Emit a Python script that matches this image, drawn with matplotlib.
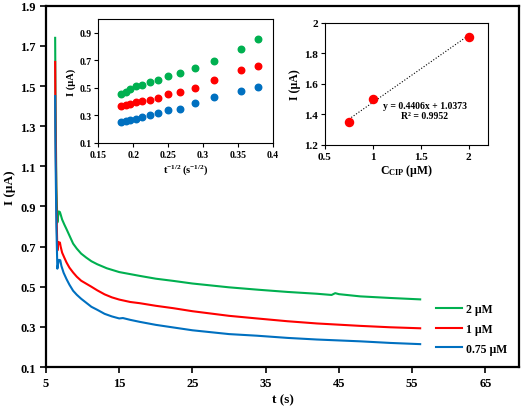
import numpy as np
import matplotlib
matplotlib.use('Agg')
import matplotlib.pyplot as plt

plt.rcParams['font.family'] = ['Liberation Serif', 'DejaVu Serif']
plt.rcParams['font.weight'] = 'bold'
plt.rcParams['mathtext.fontset'] = 'custom'
plt.rcParams['mathtext.rm'] = 'Liberation Serif'
plt.rcParams['mathtext.bf'] = 'Liberation Serif:bold'

# main chronoamperograms
t_2uM = [6.25, 6.3, 6.42, 6.55, 6.65, 6.75, 6.9, 7.0, 7.2, 7.5, 7.8, 8.2, 8.7, 9.2, 9.8, 10.5, 11.2,
         12, 13.3, 15, 17.8, 20, 22.4, 25, 30, 34, 38, 42, 44, 44.5, 45, 47.9, 52, 56.1]
i_2uM = [1.74, 1.40, 1.00, 0.82, 0.85, 0.875, 0.872, 0.86, 0.835, 0.81, 0.787, 0.755, 0.715, 0.69,
         0.665, 0.645, 0.627, 0.612, 0.592, 0.573, 0.554, 0.54, 0.529, 0.516, 0.497, 0.485, 0.474,
         0.465, 0.459, 0.468, 0.463, 0.452, 0.444, 0.437]

t_1uM = [6.25, 6.3, 6.42, 6.55, 6.7, 6.9, 7.0, 7.2, 7.5, 7.8, 8.2, 8.7, 9.2, 9.8, 10.5, 11.2, 12,
         13, 14, 15, 16.5, 17.8, 20, 22.4, 25, 30, 33.8, 38, 42, 47.9, 52, 56.1]
i_1uM = [1.62, 1.30, 0.90, 0.68, 0.722, 0.72, 0.70, 0.67, 0.645, 0.621, 0.595, 0.571, 0.55, 0.53,
         0.515, 0.50, 0.482, 0.462, 0.447, 0.436, 0.424, 0.418, 0.405, 0.393, 0.378, 0.355, 0.342,
         0.328, 0.317, 0.305, 0.298, 0.293]

t_075uM = [6.25, 6.3, 6.42, 6.55, 6.75, 6.95, 7.1, 7.4, 7.8, 8.2, 8.7, 9.2, 9.8, 10.5, 11.2, 12, 13,
           14, 15, 15.5, 16.5, 17.8, 20, 22.4, 25, 30, 33.8, 38, 42, 47.9, 52, 56.1]
i_075uM = [1.45, 1.15, 0.80, 0.59, 0.634, 0.632, 0.604, 0.57, 0.538, 0.51, 0.48, 0.46, 0.44, 0.42,
           0.40, 0.385, 0.365, 0.352, 0.342, 0.344, 0.335, 0.325, 0.31, 0.297, 0.283, 0.264, 0.256,
           0.245, 0.237, 0.228, 0.22, 0.214]

# Cottrell inset
inv_sqrt_t = [0.183, 0.189, 0.196, 0.204, 0.213, 0.224, 0.236, 0.25, 0.267, 0.289, 0.316, 0.354, 0.378]
cot_2uM = [0.455, 0.472, 0.494, 0.511, 0.518, 0.542, 0.557, 0.586, 0.61, 0.642, 0.693, 0.783, 0.854]
cot_1uM = [0.37, 0.375, 0.385, 0.395, 0.405, 0.415, 0.43, 0.455, 0.47, 0.5, 0.555, 0.63, 0.66]
cot_075uM = [0.25, 0.26, 0.265, 0.275, 0.29, 0.30, 0.32, 0.34, 0.35, 0.39, 0.435, 0.475, 0.51]

# calibration inset
conc = [0.75, 1.0, 2.0]
current = [1.35, 1.50, 1.91]
slope, intercept = 0.4406, 1.0373

green, red, blue = '#00B050', '#FF0000', '#0070C0'

fig = plt.figure(figsize=(5.24, 4.10), dpi=100)
ax = fig.add_axes([0.0878, 0.1024, 0.9027, 0.8812])
ax.plot(t_2uM, i_2uM, color=green, lw=1.5, label='2 µM')
ax.plot(t_1uM, i_1uM, color=red, lw=1.5, label='1 µM')
ax.plot(t_075uM, i_075uM, color=blue, lw=1.5, label='0.75 µM')
ax.set_xlim(5, 69.6)
ax.set_ylim(0.1, 1.9)
ax.set_xticks(np.arange(5, 66, 10))
ax.set_yticks(np.round(np.arange(0.1, 1.91, 0.2), 1))
ax.tick_params(direction='out', length=4, width=1.2, labelsize=9)
for s in ax.spines.values():
    s.set_linewidth(1.6)
ax.set_xlabel('t (s)', fontsize=9.5, fontweight='bold', labelpad=3)
ax.set_ylabel('I (µA)', fontsize=9.5, fontweight='bold', labelpad=3)
ax.legend(loc='lower right', bbox_to_anchor=(0.997, 0.005), frameon=False, fontsize=8.5,
          handlelength=2.2, handletextpad=0.35, labelspacing=0.65)

# inset 1
ax1 = fig.add_axes([0.1876, 0.6488, 0.3334, 0.3024])
ax1.scatter(inv_sqrt_t, cot_2uM, s=22, color=green, zorder=3)
ax1.scatter(inv_sqrt_t, cot_1uM, s=22, color=red, zorder=3)
ax1.scatter(inv_sqrt_t, cot_075uM, s=22, color=blue, zorder=3)
ax1.set_xlim(0.15, 0.4)
ax1.set_ylim(0.1, 1.0)
ax1.set_xticks([0.15, 0.2, 0.25, 0.3, 0.35, 0.4])
ax1.set_xticklabels(['0.15', '0.2', '0.25', '0.3', '0.35', '0.4'])
ax1.set_yticks([0.1, 0.3, 0.5, 0.7, 0.9])
ax1.tick_params(direction='out', length=3, width=0.8, labelsize=7, pad=2)
for s in ax1.spines.values():
    s.set_linewidth(0.8)
ax1.set_xlabel(r'$\mathbf{t^{-1/2}\,(s^{-1/2})}$', fontsize=7.5, labelpad=2)
ax1.set_ylabel('I (µA)', fontsize=7.5, fontweight='bold', labelpad=2)

# inset 2
ax2 = fig.add_axes([0.620, 0.6446, 0.311, 0.297])
xs = np.array([min(conc), max(conc)])
ax2.plot(xs, slope * xs + intercept, color='black', lw=0.8, ls=':')
ax2.scatter(conc, current, s=34, color=red, zorder=3)
ax2.set_xlim(0.5, 2.2)
ax2.set_ylim(1.2, 2.0)
ax2.set_xticks([0.5, 1, 1.5, 2])
ax2.set_xticklabels(['0.5', '1', '1.5', '2'])
ax2.set_yticks([1.2, 1.4, 1.6, 1.8, 2.0])
ax2.set_yticklabels(['1.2', '1.4', '1.6', '1.8', '2'])
ax2.tick_params(direction='out', length=3, width=0.8, labelsize=8, pad=2)
for s in ax2.spines.values():
    s.set_linewidth(0.8)
ax2.set_xlabel(r'$\mathbf{C_{CIP}}$ (µM)', fontsize=8.5, fontweight='bold', labelpad=1)
ax2.set_ylabel('I (µA)', fontsize=8.5, fontweight='bold', labelpad=2)
ax2.text(1.54, 1.455, 'y = 0.4406x + 1.0373', fontsize=7, ha='center', va='center', fontweight='bold')
ax2.text(1.54, 1.39, 'R² = 0.9952', fontsize=7, ha='center', va='center', fontweight='bold')

fig.savefig('out.png', dpi=100)
